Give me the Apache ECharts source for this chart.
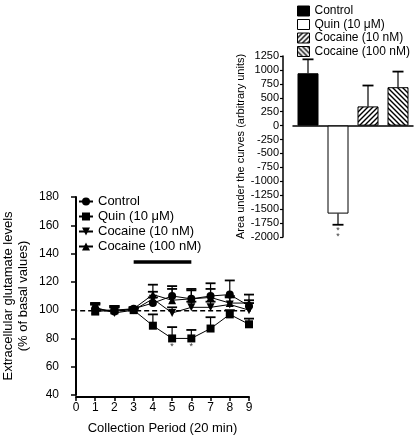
<!DOCTYPE html>
<html><head><meta charset="utf-8">
<script src="https://cdn.jsdelivr.net/npm/echarts@6/dist/echarts.min.js"></script>
<style>html,body{margin:0;padding:0;background:#fff}#c{width:418px;height:436px}</style>
</head><body><div id="c"></div>
<script>
// ---- line chart data ----
const periods = [1, 2, 3, 4, 5, 6, 7, 8, 9];
const xTicks = [0, 1, 2, 3, 4, 5, 6, 7, 8, 9];
const yTicks = [40, 60, 80, 100, 120, 140, 160, 180];
const control = [101, 99, 101, 105, 110, 108, 110, 111, 103];
const controlErr = [3, 3, 1, 4, 7, 6, 9, 10, 4];
const quin = [99, 100, 100, 89, 80, 80, 87, 97, 90];
const quinErr = [6, 3, 1, 8, 8, 6, 8, 3, 4];
const coc10 = [102, 98, 100, 108, 98, 102, 102, 104, 100];
const coc10Err = [3, 4, 1, 5, 4, 4, 4, 5, 5];
const coc100 = [100, 100, 101, 111, 107, 108, 109, 105, 105];
const coc100Err = [4, 3, 1, 7, 8, 7, 6, 5, 6];
const treatmentStart = 3, treatmentEnd = 6, treatmentLevel = 134;
const baseline = 99.5, baselineFrom = -0.2, baselineTo = 9.6;
const sigPeriods = [5, 6], sigLevel = 74;

// ---- bar chart data ----
const barCats = ['Control', 'Quin (10 \u03bcM)', 'Cocaine (10 nM)', 'Cocaine (100 nM)'];
const barVals = [940, -1580, 345, 690];
const barErrEnd = [1190, -1780, 720, 970];
const barTicks = [-2000, -1750, -1500, -1250, -1000, -750, -500, -250, 0, 250, 500, 750, 1000, 1250];

function hatch(dir) {
  const c = document.createElement('canvas');
  c.width = 5; c.height = 5;
  const g = c.getContext('2d');
  g.fillStyle = '#fff'; g.fillRect(0, 0, 5, 5);
  g.strokeStyle = '#000'; g.lineWidth = 1.4;
  g.beginPath();
  if (dir > 0) {
    g.moveTo(-1, 6); g.lineTo(6, -1);
    g.moveTo(-1, 1); g.lineTo(1, -1);
    g.moveTo(4, 6); g.lineTo(6, 4);
  } else {
    g.moveTo(-1, -1); g.lineTo(6, 6);
    g.moveTo(4, -1); g.lineTo(6, 1);
    g.moveTo(-1, 4); g.lineTo(1, 6);
  }
  g.stroke();
  return {image: c, repeat: 'repeat'};
}
const barFills = ['#000', '#fff', hatch(1), hatch(-1)];

const font = 'Liberation Sans, Arial, Helvetica, sans-serif';
const chart = echarts.init(document.getElementById('c'), null, {renderer: 'canvas'});

function lineSeries(name, vals, symbol) {
  return {
    name, type: 'line', xAxisIndex: 0, yAxisIndex: 0,
    data: periods.map((p, i) => [p, vals[i]]),
    symbol, symbolSize: 8,
    itemStyle: {color: '#000'}, lineStyle: {color: '#000', width: 1},
    z: 5
  };
}
function errSeries(vals, errs) {
  return {
    type: 'custom', xAxisIndex: 0, yAxisIndex: 0, z: 3, silent: true,
    data: periods.map((p, i) => [p, vals[i], vals[i] + errs[i]]),
    renderItem: (params, api) => {
      const a = api.coord([api.value(0), api.value(1)]);
      const b = api.coord([api.value(0), api.value(2)]);
      return {type: 'group', children: [
        {type: 'line', shape: {x1: a[0], y1: a[1], x2: b[0], y2: b[1]}, style: {stroke: '#000', lineWidth: 1.2}},
        {type: 'line', shape: {x1: b[0] - 5, y1: b[1], x2: b[0] + 5, y2: b[1]}, style: {stroke: '#000', lineWidth: 1.8}}
      ]};
    }
  };
}

const downTri = 'path://M0,0 L10,0 L5,9 Z';
const upTri = 'path://M5,0 L10,9 L0,9 Z';

const series = [
  errSeries(control, controlErr), errSeries(quin, quinErr), errSeries(coc10, coc10Err), errSeries(coc100, coc100Err),
  lineSeries('Control', control, 'circle'),
  lineSeries('Quin (10 \u03bcM)', quin, 'rect'),
  lineSeries('Cocaine (10 nM)', coc10, downTri),
  lineSeries('Cocaine (100 nM)', coc100, upTri),
  {type: 'line', xAxisIndex: 0, yAxisIndex: 0, silent: true, symbol: 'none', clip: false,
   data: [[treatmentStart, treatmentLevel], [treatmentEnd, treatmentLevel]],
   lineStyle: {color: '#000', width: 3.5}},
  {type: 'line', xAxisIndex: 0, yAxisIndex: 0, silent: true, symbol: 'none', clip: false, z: 1,
   data: [[baselineFrom, baseline], [baselineTo, baseline]],
   lineStyle: {color: '#000', width: 1.5, type: [5, 3]}},
  {type: 'scatter', xAxisIndex: 0, yAxisIndex: 0, silent: true, symbolSize: 0,
   data: sigPeriods.map(p => [p, sigLevel]),
   label: {show: true, formatter: '*', position: 'inside', fontSize: 9, color: '#000', fontFamily: font}}
];

barCats.forEach((c, i) => {
  series.push({
    name: c, type: 'bar', xAxisIndex: 1, yAxisIndex: 1,
    data: barVals.map((v, j) => j === i ? v : '-'),
    barWidth: 21, barGap: '-100%',
    itemStyle: {color: barFills[i], borderColor: '#000', borderWidth: 1}
  });
});
series.push({
  type: 'custom', xAxisIndex: 1, yAxisIndex: 1, silent: true, z: 1,
  data: barVals.map((v, i) => [i, v, barErrEnd[i]]),
  renderItem: (params, api) => {
    const a = api.coord([api.value(0), api.value(1)]);
    const b = api.coord([api.value(0), api.value(2)]);
    return {type: 'group', children: [
      {type: 'line', shape: {x1: a[0], y1: a[1], x2: b[0], y2: b[1]}, style: {stroke: '#000', lineWidth: 1.2}},
      {type: 'line', shape: {x1: b[0] - 5.5, y1: b[1], x2: b[0] + 5.5, y2: b[1]}, style: {stroke: '#000', lineWidth: 1.8}}
    ]};
  }
});
series.push({
  type: 'scatter', xAxisIndex: 1, yAxisIndex: 1, silent: true, symbolSize: 0,
  data: [[1, -1930]],
  label: {show: true, formatter: '*\n*', position: 'inside', fontSize: 9, lineHeight: 6, color: '#000', fontFamily: font}
});

chart.setOption({
  animation: false,
  textStyle: {fontFamily: font, color: '#000'},
  legend: [
    {data: ['Control', 'Quin (10 \u03bcM)', 'Cocaine (10 nM)', 'Cocaine (100 nM)'].map(n => ({name: n})),
     orient: 'vertical', left: 73, top: 190, itemWidth: 14, itemHeight: 10, itemGap: 2,
     textStyle: {fontSize: 13, lineHeight: 13, color: '#000', fontFamily: font}, selectedMode: false},
    {data: barCats.map((n, i) => ({name: n, icon: 'rect',
       itemStyle: {color: barFills[i], borderColor: '#000', borderWidth: 1}})),
     orient: 'vertical', left: 292, top: 0, itemWidth: 12, itemHeight: 10, itemGap: 1.5,
     textStyle: {fontSize: 12, lineHeight: 12, color: '#000', fontFamily: font}, selectedMode: false}
  ],
  grid: [
    {left: 76, right: 169, top: 197, bottom: 39},
    {left: 293, right: 5, top: 56, bottom: 199}
  ],
  xAxis: [
    {type: 'value', gridIndex: 0, min: xTicks[0], max: xTicks[xTicks.length - 1], interval: 1, offset: 2,
     name: 'Collection Period (20 min)', nameLocation: 'middle', nameGap: 25,
     nameTextStyle: {fontSize: 13, color: '#000', fontFamily: font},
     axisLine: {lineStyle: {color: '#000', width: 2}},
     axisTick: {length: 4, lineStyle: {color: '#000', width: 1.5}},
     axisLabel: {color: '#000', fontSize: 12, margin: 5, fontFamily: font}, splitLine: {show: false}},
    {type: 'category', gridIndex: 1, data: barCats,
     axisLine: {onZero: true, lineStyle: {color: '#000', width: 1.5}},
     axisTick: {show: false}, axisLabel: {show: false}, splitLine: {show: false}}
  ],
  yAxis: [
    {type: 'value', gridIndex: 0, min: yTicks[0], max: yTicks[yTicks.length - 1], interval: 20, offset: 13,
     name: 'Extracellular glutamate levels\n(% of basal values)', nameLocation: 'middle', nameGap: 32,
     nameTextStyle: {fontSize: 13, lineHeight: 15, color: '#000', fontFamily: font},
     axisLine: {show: true, lineStyle: {color: '#000', width: 2}},
     axisTick: {show: true, length: 5, lineStyle: {color: '#000', width: 1.5}},
     axisLabel: {color: '#000', fontSize: 12, margin: 4, fontFamily: font}, splitLine: {show: false}},
    {type: 'value', gridIndex: 1, min: barTicks[0], max: barTicks[barTicks.length - 1], interval: 250, offset: 10,
     name: 'Area under the curves (arbitrary units)', nameLocation: 'middle', nameGap: 32,
     nameTextStyle: {fontSize: 11, color: '#000', fontFamily: font},
     axisLine: {show: true, lineStyle: {color: '#000', width: 1.5}},
     axisTick: {show: true, length: 3, lineStyle: {color: '#000', width: 1.2}},
     axisLabel: {color: '#000', fontSize: 11, margin: 4, fontFamily: font, formatter: v => String(v)},
     splitLine: {show: false}}
  ],
  series
});
</script></body></html>
